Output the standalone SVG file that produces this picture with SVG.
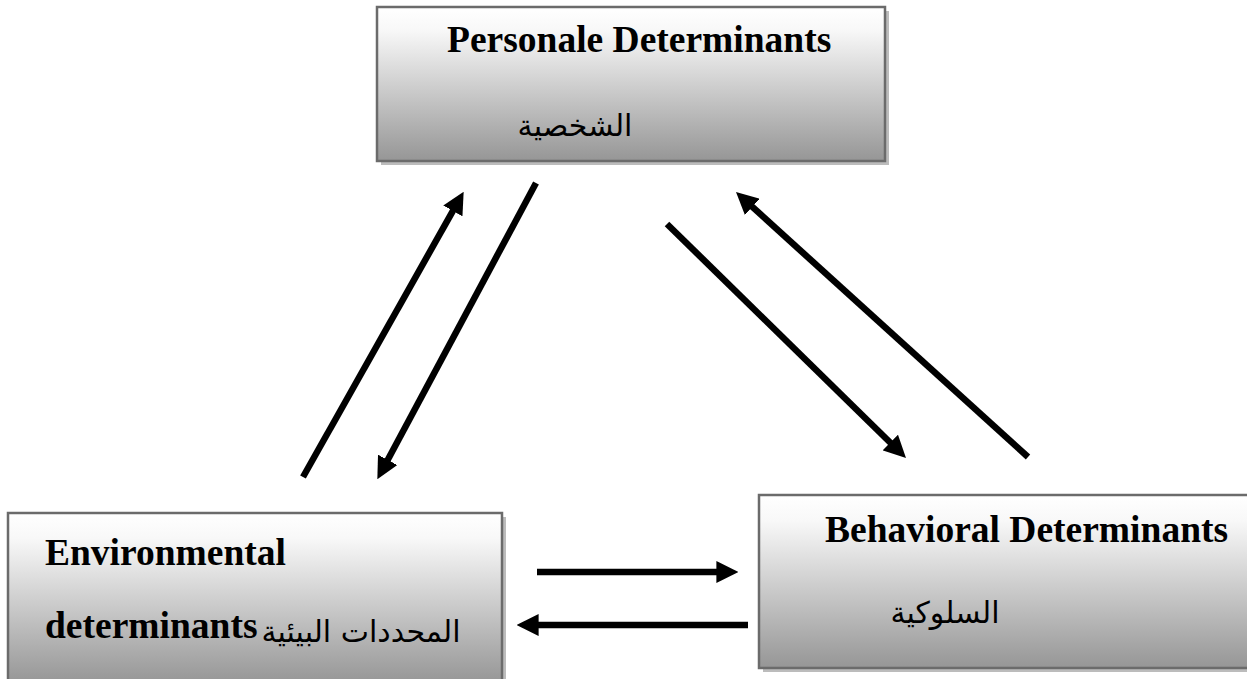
<svg xmlns="http://www.w3.org/2000/svg" width="1247" height="679" viewBox="0 0 1247 679">
<style>
.box{fill:url(#g);stroke:#6b6b6b;stroke-width:2.5}
.sh{fill:#bcbcbc}
.en{font-family:"Liberation Serif","Times New Roman",serif;font-weight:bold;font-size:37.5px;fill:#000}
.ar{font-family:"DejaVu Sans","Noto Sans",sans-serif;font-size:30px;fill:#000}
.c{stroke:#000;stroke-width:6.5;fill:none;stroke-linecap:butt;marker-end:url(#ah)}
</style>
<defs>
<linearGradient id="g" x1="0" y1="0" x2="0" y2="1">
<stop offset="0" stop-color="#ffffff"/>
<stop offset="0.15" stop-color="#f8f8f8"/>
<stop offset="1" stop-color="#969696"/>
</linearGradient>
<marker id="ah" markerUnits="userSpaceOnUse" markerWidth="22" markerHeight="22" refX="6" refY="10" orient="auto" viewBox="0 0 20 20">
<path d="M0,0 L20,10 L0,20 z" fill="#000"/>
</marker>
</defs>
<rect width="1247" height="679" fill="#fff"/>
<g id="personal">
<rect class="sh" x="381" y="11" width="508" height="154"/>
<rect class="box" x="377" y="7" width="508" height="154"/>
<text class="en" x="447" y="52">Personale Determinants</text>
<text class="ar" x="575" y="136" text-anchor="middle" font-size="32">الشخصية</text>
</g>
<g id="environmental">
<rect class="sh" x="12" y="517" width="494" height="170"/>
<rect class="box" x="8" y="513" width="494" height="170"/>
<text class="en" x="45" y="565">Environmental</text>
<text class="en" x="45" y="638">determinants</text>
<text class="ar" x="361" y="642" text-anchor="middle" font-size="29">المحددات البيئية</text>
</g>
<g id="behavioral">
<rect class="sh" x="763" y="499" width="500" height="173"/>
<rect class="box" x="759" y="495" width="500" height="173"/>
<text class="en" x="825" y="542">Behavioral Determinants</text>
<text class="ar" x="945" y="623" text-anchor="middle">السلوكية</text>
</g>
<g id="connectors">
<line class="c" x1="303" y1="477" x2="456.1" y2="205.2"/>
<line class="c" x1="536" y1="183" x2="384.6" y2="465.7"/>
<line class="c" x1="667" y1="224" x2="895" y2="447.2"/>
<line class="c" x1="1028" y1="457" x2="747.4" y2="202.4"/>
<line class="c" x1="537" y1="572" x2="723" y2="572"/>
<line class="c" x1="748" y1="625" x2="532" y2="625"/>
</g>
</svg>
